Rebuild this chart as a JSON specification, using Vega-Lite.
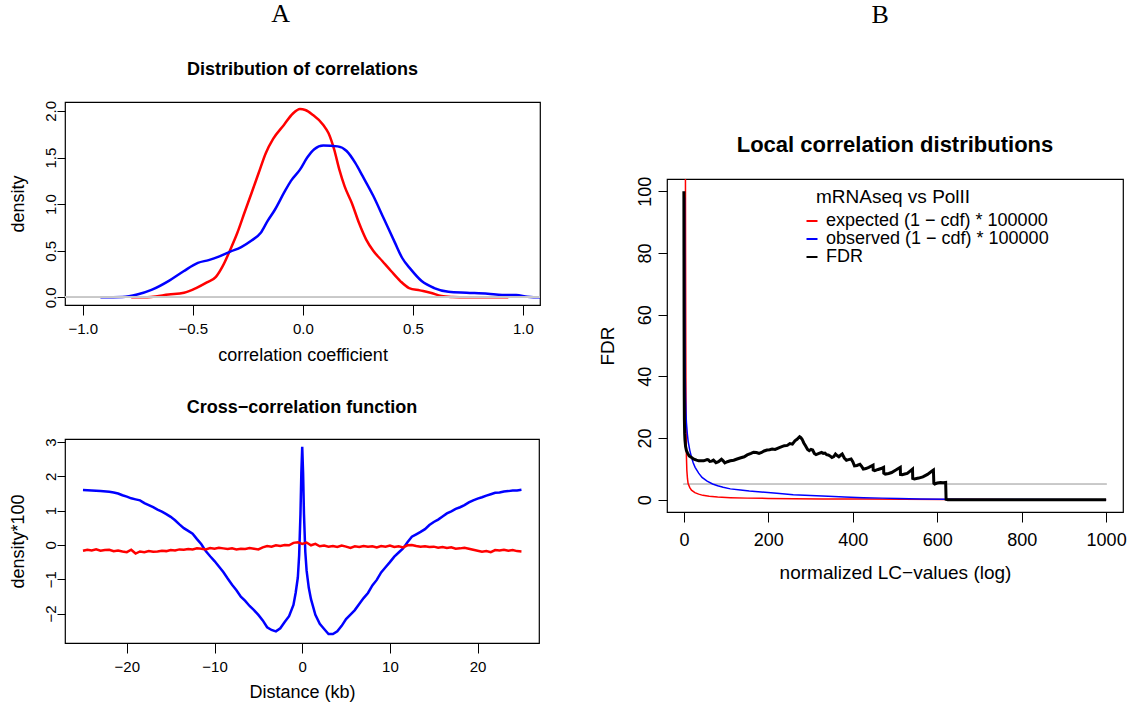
{
  "$schema": "https://vega.github.io/schema/vega-lite/v6.json",
  "background": "white",
  "padding": {"left": 8, "top": 0, "right": 4, "bottom": 4},
  "config": {
    "font": "Liberation Sans",
    "view": {"stroke": "black", "strokeWidth": 1.2},
    "axis": {"grid": false, "domain": false, "tickColor": "black", "tickWidth": 1, "labelColor": "black", "titleColor": "black", "titleFontWeight": "normal", "labelFlush": false, "labelOverlap": false, "titleAlign": "center", "titleBaseline": "alphabetic"},
    "title": {"color": "black", "fontWeight": "bold", "baseline": "alphabetic", "anchor": "middle"}
  },
  "datasets": {
    "corr": [
      {"s":"a","x":-0.78,"y":0},{"s":"a","x":-0.69,"y":0.005},{"s":"a","x":-0.61,"y":0.03},{"s":"a","x":-0.54,"y":0.05},{"s":"a","x":-0.485,"y":0.1},{"s":"a","x":-0.436,"y":0.16},{"s":"a","x":-0.395,"y":0.22},{"s":"a","x":-0.363,"y":0.34},{"s":"a","x":-0.33,"y":0.51},{"s":"a","x":-0.298,"y":0.69},{"s":"a","x":-0.265,"y":0.91},{"s":"a","x":-0.233,"y":1.12},{"s":"a","x":-0.2,"y":1.34},{"s":"a","x":-0.168,"y":1.55},{"s":"a","x":-0.135,"y":1.7},{"s":"a","x":-0.086,"y":1.85},{"s":"a","x":-0.046,"y":1.97},{"s":"a","x":-0.013,"y":2.02},{"s":"a","x":0.011,"y":2.01},{"s":"a","x":0.044,"y":1.96},{"s":"a","x":0.093,"y":1.85},{"s":"a","x":0.117,"y":1.76},{"s":"a","x":0.142,"y":1.59},{"s":"a","x":0.166,"y":1.37},{"s":"a","x":0.19,"y":1.19},{"s":"a","x":0.223,"y":1.01},{"s":"a","x":0.255,"y":0.8},{"s":"a","x":0.288,"y":0.62},{"s":"a","x":0.32,"y":0.5},{"s":"a","x":0.361,"y":0.39},{"s":"a","x":0.402,"y":0.28},{"s":"a","x":0.443,"y":0.175},{"s":"a","x":0.483,"y":0.1},{"s":"a","x":0.532,"y":0.075},{"s":"a","x":0.58,"y":0.05},{"s":"a","x":0.63,"y":0.014},{"s":"a","x":0.68,"y":0.004},{"s":"a","x":0.744,"y":0},{"s":"a","x":0.934,"y":0},
      {"s":"b","x":-0.92,"y":0},{"s":"b","x":-0.82,"y":0.004},{"s":"b","x":-0.753,"y":0.03},{"s":"b","x":-0.688,"y":0.08},{"s":"b","x":-0.607,"y":0.18},{"s":"b","x":-0.542,"y":0.28},{"s":"b","x":-0.477,"y":0.37},{"s":"b","x":-0.428,"y":0.4},{"s":"b","x":-0.379,"y":0.44},{"s":"b","x":-0.33,"y":0.49},{"s":"b","x":-0.28,"y":0.54},{"s":"b","x":-0.233,"y":0.61},{"s":"b","x":-0.192,"y":0.69},{"s":"b","x":-0.16,"y":0.82},{"s":"b","x":-0.127,"y":0.94},{"s":"b","x":-0.086,"y":1.12},{"s":"b","x":-0.054,"y":1.25},{"s":"b","x":-0.013,"y":1.37},{"s":"b","x":0.02,"y":1.5},{"s":"b","x":0.052,"y":1.59},{"s":"b","x":0.093,"y":1.63},{"s":"b","x":0.158,"y":1.62},{"s":"b","x":0.199,"y":1.57},{"s":"b","x":0.239,"y":1.44},{"s":"b","x":0.272,"y":1.3},{"s":"b","x":0.32,"y":1.09},{"s":"b","x":0.369,"y":0.84},{"s":"b","x":0.418,"y":0.59},{"s":"b","x":0.451,"y":0.425},{"s":"b","x":0.491,"y":0.3},{"s":"b","x":0.54,"y":0.175},{"s":"b","x":0.597,"y":0.1},{"s":"b","x":0.662,"y":0.06},{"s":"b","x":0.744,"y":0.05},{"s":"b","x":0.841,"y":0.04},{"s":"b","x":0.906,"y":0.025},{"s":"b","x":0.97,"y":0.025},{"s":"b","x":1.02,"y":0.007},{"s":"b","x":1.08,"y":0},{"s":"b","x":1.12,"y":0}
    ],
    "ccf": [
      {"s":"a","x":-25,"y":1.6},{"s":"a","x":-24,"y":1.59},{"s":"a","x":-23,"y":1.57},{"s":"a","x":-22,"y":1.55},{"s":"a","x":-21.5,"y":1.53},{"s":"a","x":-21,"y":1.5},{"s":"a","x":-20.5,"y":1.45},{"s":"a","x":-20,"y":1.41},{"s":"a","x":-19.5,"y":1.36},{"s":"a","x":-19,"y":1.33},{"s":"a","x":-18.5,"y":1.3},{"s":"a","x":-18,"y":1.22},{"s":"a","x":-17.5,"y":1.16},{"s":"a","x":-17,"y":1.1},{"s":"a","x":-16.5,"y":1.03},{"s":"a","x":-16,"y":0.97},{"s":"a","x":-15.5,"y":0.9},{"s":"a","x":-15,"y":0.82},{"s":"a","x":-14.5,"y":0.72},{"s":"a","x":-14,"y":0.6},{"s":"a","x":-13.5,"y":0.49},{"s":"a","x":-13,"y":0.41},{"s":"a","x":-12.5,"y":0.33},{"s":"a","x":-12,"y":0.17},{"s":"a","x":-11.5,"y":0.02},{"s":"a","x":-11,"y":-0.18},{"s":"a","x":-10.5,"y":-0.33},{"s":"a","x":-10,"y":-0.47},{"s":"a","x":-9.5,"y":-0.63},{"s":"a","x":-9,"y":-0.79},{"s":"a","x":-8.5,"y":-0.98},{"s":"a","x":-8,"y":-1.16},{"s":"a","x":-7.5,"y":-1.32},{"s":"a","x":-7,"y":-1.51},{"s":"a","x":-6.5,"y":-1.63},{"s":"a","x":-6,"y":-1.78},{"s":"a","x":-5.5,"y":-1.9},{"s":"a","x":-5,"y":-2.04},{"s":"a","x":-4.5,"y":-2.2},{"s":"a","x":-4,"y":-2.4},{"s":"a","x":-3.5,"y":-2.48},{"s":"a","x":-3,"y":-2.52},{"s":"a","x":-2.5,"y":-2.43},{"s":"a","x":-2,"y":-2.25},{"s":"a","x":-1.5,"y":-2.08},{"s":"a","x":-1,"y":-1.75},{"s":"a","x":-0.75,"y":-1.4},{"s":"a","x":-0.5,"y":-0.95},{"s":"a","x":-0.35,"y":-0.3},{"s":"a","x":-0.2,"y":0.9},{"s":"a","x":-0.1,"y":2.1},{"s":"a","x":0,"y":2.86},{"s":"a","x":0.1,"y":2.1},{"s":"a","x":0.2,"y":0.9},{"s":"a","x":0.35,"y":-0.2},{"s":"a","x":0.5,"y":-0.75},{"s":"a","x":0.75,"y":-1.25},{"s":"a","x":1,"y":-1.58},{"s":"a","x":1.5,"y":-2.04},{"s":"a","x":2,"y":-2.3},{"s":"a","x":2.5,"y":-2.45},{"s":"a","x":3,"y":-2.6},{"s":"a","x":3.5,"y":-2.6},{"s":"a","x":4,"y":-2.52},{"s":"a","x":4.5,"y":-2.36},{"s":"a","x":5,"y":-2.16},{"s":"a","x":5.5,"y":-2.03},{"s":"a","x":6,"y":-1.9},{"s":"a","x":6.5,"y":-1.72},{"s":"a","x":7,"y":-1.55},{"s":"a","x":7.5,"y":-1.4},{"s":"a","x":8,"y":-1.18},{"s":"a","x":8.5,"y":-1.02},{"s":"a","x":9,"y":-0.8},{"s":"a","x":9.5,"y":-0.65},{"s":"a","x":10,"y":-0.5},{"s":"a","x":10.5,"y":-0.34},{"s":"a","x":11,"y":-0.22},{"s":"a","x":11.5,"y":-0.1},{"s":"a","x":12,"y":0.08},{"s":"a","x":12.5,"y":0.24},{"s":"a","x":13,"y":0.31},{"s":"a","x":13.5,"y":0.38},{"s":"a","x":14,"y":0.46},{"s":"a","x":14.5,"y":0.58},{"s":"a","x":15,"y":0.67},{"s":"a","x":15.5,"y":0.74},{"s":"a","x":16,"y":0.83},{"s":"a","x":16.5,"y":0.92},{"s":"a","x":17,"y":0.98},{"s":"a","x":17.5,"y":1.05},{"s":"a","x":18,"y":1.1},{"s":"a","x":18.5,"y":1.16},{"s":"a","x":19,"y":1.24},{"s":"a","x":19.5,"y":1.3},{"s":"a","x":20,"y":1.35},{"s":"a","x":20.5,"y":1.39},{"s":"a","x":21,"y":1.44},{"s":"a","x":21.5,"y":1.48},{"s":"a","x":22,"y":1.52},{"s":"a","x":22.5,"y":1.53},{"s":"a","x":23,"y":1.56},{"s":"a","x":23.5,"y":1.57},{"s":"a","x":24,"y":1.59},{"s":"a","x":24.5,"y":1.59},{"s":"a","x":25,"y":1.61},
      {"s":"b","x":-25,"y":-0.17},{"s":"b","x":-24.5,"y":-0.14},{"s":"b","x":-24,"y":-0.16},{"s":"b","x":-23.5,"y":-0.13},{"s":"b","x":-23,"y":-0.17},{"s":"b","x":-22.5,"y":-0.15},{"s":"b","x":-22,"y":-0.14},{"s":"b","x":-21.5,"y":-0.18},{"s":"b","x":-21,"y":-0.16},{"s":"b","x":-20.5,"y":-0.19},{"s":"b","x":-20,"y":-0.21},{"s":"b","x":-19.5,"y":-0.14},{"s":"b","x":-19,"y":-0.25},{"s":"b","x":-18.5,"y":-0.19},{"s":"b","x":-18,"y":-0.21},{"s":"b","x":-17.5,"y":-0.18},{"s":"b","x":-17,"y":-0.2},{"s":"b","x":-16.5,"y":-0.19},{"s":"b","x":-16,"y":-0.17},{"s":"b","x":-15.5,"y":-0.18},{"s":"b","x":-15,"y":-0.15},{"s":"b","x":-14.5,"y":-0.16},{"s":"b","x":-14,"y":-0.13},{"s":"b","x":-13.5,"y":-0.14},{"s":"b","x":-13,"y":-0.12},{"s":"b","x":-12.5,"y":-0.13},{"s":"b","x":-12,"y":-0.1},{"s":"b","x":-11.5,"y":-0.11},{"s":"b","x":-11,"y":-0.13},{"s":"b","x":-10.5,"y":-0.09},{"s":"b","x":-10,"y":-0.11},{"s":"b","x":-9.5,"y":-0.08},{"s":"b","x":-9,"y":-0.1},{"s":"b","x":-8.5,"y":-0.12},{"s":"b","x":-8,"y":-0.1},{"s":"b","x":-7.5,"y":-0.13},{"s":"b","x":-7,"y":-0.11},{"s":"b","x":-6.5,"y":-0.12},{"s":"b","x":-6,"y":-0.09},{"s":"b","x":-5.5,"y":-0.11},{"s":"b","x":-5,"y":-0.13},{"s":"b","x":-4.5,"y":-0.07},{"s":"b","x":-4,"y":-0.03},{"s":"b","x":-3.5,"y":-0.05},{"s":"b","x":-3,"y":-0.01},{"s":"b","x":-2.5,"y":-0.03},{"s":"b","x":-2,"y":0},{"s":"b","x":-1.5,"y":-0.01},{"s":"b","x":-1,"y":0.06},{"s":"b","x":-0.5,"y":0.08},{"s":"b","x":0,"y":0.03},{"s":"b","x":0.5,"y":0.07},{"s":"b","x":1,"y":-0.01},{"s":"b","x":1.5,"y":0.03},{"s":"b","x":2,"y":-0.04},{"s":"b","x":2.5,"y":-0.02},{"s":"b","x":3,"y":-0.05},{"s":"b","x":3.5,"y":-0.03},{"s":"b","x":4,"y":-0.06},{"s":"b","x":4.5,"y":-0.02},{"s":"b","x":5,"y":-0.05},{"s":"b","x":5.5,"y":-0.09},{"s":"b","x":6,"y":-0.04},{"s":"b","x":6.5,"y":-0.06},{"s":"b","x":7,"y":-0.03},{"s":"b","x":7.5,"y":-0.05},{"s":"b","x":8,"y":-0.04},{"s":"b","x":8.5,"y":-0.07},{"s":"b","x":9,"y":-0.03},{"s":"b","x":9.5,"y":-0.05},{"s":"b","x":10,"y":-0.02},{"s":"b","x":10.5,"y":-0.06},{"s":"b","x":11,"y":-0.04},{"s":"b","x":11.5,"y":-0.07},{"s":"b","x":12,"y":-0.01},{"s":"b","x":12.5,"y":0},{"s":"b","x":13,"y":-0.03},{"s":"b","x":13.5,"y":-0.05},{"s":"b","x":14,"y":-0.04},{"s":"b","x":14.5,"y":-0.06},{"s":"b","x":15,"y":-0.05},{"s":"b","x":15.5,"y":-0.08},{"s":"b","x":16,"y":-0.06},{"s":"b","x":16.5,"y":-0.09},{"s":"b","x":17,"y":-0.07},{"s":"b","x":17.5,"y":-0.11},{"s":"b","x":18,"y":-0.1},{"s":"b","x":18.5,"y":-0.08},{"s":"b","x":19,"y":-0.11},{"s":"b","x":19.5,"y":-0.14},{"s":"b","x":20,"y":-0.17},{"s":"b","x":20.5,"y":-0.2},{"s":"b","x":21,"y":-0.18},{"s":"b","x":21.5,"y":-0.21},{"s":"b","x":22,"y":-0.15},{"s":"b","x":22.5,"y":-0.16},{"s":"b","x":23,"y":-0.14},{"s":"b","x":23.5,"y":-0.17},{"s":"b","x":24,"y":-0.15},{"s":"b","x":24.5,"y":-0.18},{"s":"b","x":25,"y":-0.19}
    ],
    "fdr": [
      {"s":"a","x":3.5,"y":120},{"s":"a","x":4,"y":80},{"s":"a","x":4.5,"y":50},{"s":"a","x":5,"y":30},{"s":"a","x":5.5,"y":20},{"s":"a","x":6,"y":14},{"s":"a","x":7,"y":9.5},{"s":"a","x":8.5,"y":6.8},{"s":"a","x":10,"y":5.2},{"s":"a","x":14,"y":3.9},{"s":"a","x":18,"y":3.1},{"s":"a","x":26,"y":2.3},{"s":"a","x":35,"y":1.8},{"s":"a","x":45,"y":1.4},{"s":"a","x":60,"y":1.1},{"s":"a","x":80,"y":0.85},{"s":"a","x":110,"y":0.65},{"s":"a","x":150,"y":0.5},{"s":"a","x":200,"y":0.4},{"s":"a","x":260,"y":0.3},{"s":"a","x":330,"y":0.25},{"s":"a","x":425,"y":0.2},{"s":"a","x":520,"y":0.12},{"s":"a","x":625,"y":0.05},{"s":"a","x":700,"y":0.02},{"s":"a","x":800,"y":0.01},{"s":"a","x":1000,"y":0},
      {"s":"b","x":1.5,"y":98},{"s":"b","x":2,"y":70},{"s":"b","x":2.5,"y":50},{"s":"b","x":3.2,"y":40},{"s":"b","x":4,"y":33},{"s":"b","x":5,"y":28},{"s":"b","x":6,"y":25},{"s":"b","x":8,"y":21.5},{"s":"b","x":10,"y":19},{"s":"b","x":14,"y":16},{"s":"b","x":18,"y":13.8},{"s":"b","x":22,"y":12},{"s":"b","x":26.6,"y":10.5},{"s":"b","x":35,"y":8.6},{"s":"b","x":43,"y":7.2},{"s":"b","x":55,"y":6},{"s":"b","x":68,"y":5.1},{"s":"b","x":80,"y":4.5},{"s":"b","x":93,"y":4},{"s":"b","x":110,"y":3.5},{"s":"b","x":134,"y":3.1},{"s":"b","x":155,"y":2.8},{"s":"b","x":176,"y":2.6},{"s":"b","x":220,"y":2.1},{"s":"b","x":259,"y":1.6},{"s":"b","x":300,"y":1.35},{"s":"b","x":342,"y":1.1},{"s":"b","x":380,"y":0.9},{"s":"b","x":425,"y":0.65},{"s":"b","x":470,"y":0.5},{"s":"b","x":508,"y":0.4},{"s":"b","x":560,"y":0.25},{"s":"b","x":625,"y":0.1},{"s":"b","x":700,"y":0.05},{"s":"b","x":800,"y":0.02},{"s":"b","x":1000,"y":0},
      {"s":"c","x":0,"y":100},{"s":"c","x":0.4,"y":60},{"s":"c","x":0.8,"y":35},{"s":"c","x":1.2,"y":26},{"s":"c","x":1.8,"y":21.5},{"s":"c","x":2.5,"y":19.5},{"s":"c","x":4,"y":17.2},{"s":"c","x":6,"y":15.9},{"s":"c","x":9,"y":15},{"s":"c","x":12.5,"y":14.2},{"s":"c","x":18,"y":13.7},{"s":"c","x":22.4,"y":13.2},{"s":"c","x":30,"y":12.8},{"s":"c","x":35,"y":12.6},{"s":"c","x":47,"y":12.6},{"s":"c","x":55,"y":13},{"s":"c","x":58,"y":12.9},{"s":"c","x":61.5,"y":12.4},{"s":"c","x":66,"y":12.5},{"s":"c","x":70,"y":12.8},{"s":"c","x":76,"y":12},{"s":"c","x":82,"y":12.3},{"s":"c","x":89,"y":13.1},{"s":"c","x":93,"y":12.6},{"s":"c","x":97,"y":11.9},{"s":"c","x":103,"y":12.3},{"s":"c","x":110,"y":12.6},{"s":"c","x":118,"y":12.8},{"s":"c","x":126,"y":13.2},{"s":"c","x":135,"y":13.6},{"s":"c","x":143,"y":13.9},{"s":"c","x":150,"y":14.5},{"s":"c","x":159,"y":15},{"s":"c","x":165,"y":15.4},{"s":"c","x":172,"y":15.3},{"s":"c","x":178,"y":15},{"s":"c","x":184,"y":15.3},{"s":"c","x":190,"y":15.8},{"s":"c","x":197,"y":16.1},{"s":"c","x":203,"y":16.2},{"s":"c","x":209,"y":16.4},{"s":"c","x":216,"y":16.3},{"s":"c","x":226,"y":16.9},{"s":"c","x":232,"y":17.2},{"s":"c","x":238,"y":17.5},{"s":"c","x":245,"y":17.6},{"s":"c","x":251,"y":18.2},{"s":"c","x":257,"y":18},{"s":"c","x":263,"y":19.1},{"s":"c","x":268,"y":19.6},{"s":"c","x":274,"y":20.4},{"s":"c","x":277,"y":20.1},{"s":"c","x":280,"y":19.6},{"s":"c","x":284,"y":18.4},{"s":"c","x":288,"y":17.5},{"s":"c","x":293,"y":16.3},{"s":"c","x":297,"y":15.9},{"s":"c","x":301,"y":16.3},{"s":"c","x":305,"y":16.1},{"s":"c","x":309,"y":15},{"s":"c","x":313,"y":14.6},{"s":"c","x":320,"y":15},{"s":"c","x":326,"y":15.3},{"s":"c","x":330,"y":15},{"s":"c","x":334,"y":15.1},{"s":"c","x":338,"y":14.6},{"s":"c","x":342,"y":14.5},{"s":"c","x":346,"y":14.2},{"s":"c","x":350.5,"y":13.7},{"s":"c","x":355,"y":14},{"s":"c","x":359,"y":14.8},{"s":"c","x":363,"y":14.3},{"s":"c","x":367,"y":13.9},{"s":"c","x":371,"y":14.4},{"s":"c","x":375,"y":14.8},{"s":"c","x":380,"y":13.5},{"s":"c","x":385,"y":12.8},{"s":"c","x":390,"y":13},{"s":"c","x":396,"y":13.2},{"s":"c","x":400,"y":12.3},{"s":"c","x":404,"y":11},{"s":"c","x":410,"y":11.1},{"s":"c","x":417,"y":11.5},{"s":"c","x":421,"y":10.8},{"s":"c","x":425,"y":9.9},{"s":"c","x":431,"y":10.1},{"s":"c","x":438,"y":10.5},{"s":"c","x":448,"y":11.2},{"s":"c","x":448.4,"y":9.6},{"s":"c","x":452,"y":9.4},{"s":"c","x":460,"y":9.8},{"s":"c","x":467,"y":10.1},{"s":"c","x":473,"y":10.5},{"s":"c","x":473.4,"y":8.6},{"s":"c","x":477,"y":8.3},{"s":"c","x":485,"y":8.5},{"s":"c","x":492,"y":8.8},{"s":"c","x":502,"y":9.6},{"s":"c","x":512.5,"y":10.5},{"s":"c","x":513,"y":8.2},{"s":"c","x":517,"y":8.1},{"s":"c","x":523,"y":8.3},{"s":"c","x":529,"y":8.5},{"s":"c","x":535,"y":9.2},{"s":"c","x":541.5,"y":9.9},{"s":"c","x":542,"y":6.9},{"s":"c","x":546,"y":6.7},{"s":"c","x":556,"y":7},{"s":"c","x":566,"y":7.4},{"s":"c","x":577,"y":8.2},{"s":"c","x":587,"y":9.2},{"s":"c","x":591,"y":9.6},{"s":"c","x":592,"y":5.3},{"s":"c","x":594,"y":5.1},{"s":"c","x":600,"y":5.4},{"s":"c","x":608,"y":5.6},{"s":"c","x":614,"y":5.5},{"s":"c","x":620,"y":5.6},{"s":"c","x":621,"y":0.1},{"s":"c","x":625,"y":0},{"s":"c","x":1000,"y":0}
    ]
  },
  "resolve": {"scale": {"color": "independent"}, "legend": {"color": "independent"}},
  "spacing": 55,
  "hconcat": [
    {
      "title": {"text": "A", "font": "Liberation Serif", "fontSize": 26, "fontWeight": "normal", "offset": 33, "dx": 6},
      "resolve": {"scale": {"color": "independent"}, "legend": {"color": "independent"}},
      "spacing": 33,
      "vconcat": [
        {
          "width": 475,
          "height": 203,
          "title": {"text": "Distribution of correlations", "fontSize": 18, "offset": 22},
          "data": {"name": "corr"},
          "layer": [
            {
              "mark": {"type": "line", "strokeWidth": 2.5, "interpolate": "monotone", "clip": true},
              "encoding": {
                "x": {"field": "x", "type": "quantitative", "scale": {"domain": [-1.081, 1.078], "nice": false, "zero": false},
                      "axis": {"values": [-1, -0.5, 0, 0.5, 1], "format": ".1f", "title": "correlation coefficient", "labelFontSize": 15, "titleFontSize": 18, "tickSize": 10, "labelPadding": 6, "titleX": 237.5, "titleY": 55}},
                "y": {"field": "y", "type": "quantitative", "scale": {"domain": [-0.082, 2.096], "nice": false, "zero": false},
                      "axis": {"values": [0, 0.5, 1, 1.5, 2], "format": ".1f", "title": "density", "labelAngle": -90, "labelAlign": "center", "labelBaseline": "alphabetic", "labelFontSize": 15, "titleFontSize": 18, "tickSize": 8, "labelPadding": 2, "titleX": -42, "titleY": 101.5}},
                "color": {"field": "s", "type": "nominal", "scale": {"domain": ["a", "b"], "range": ["#ff0000", "#0000ff"]}, "legend": null}
              }
            },
            {"mark": {"type": "rule", "color": "#c8c8c8", "strokeWidth": 1}, "encoding": {"y": {"datum": 0}}}
          ]
        },
        {
          "width": 474,
          "height": 204,
          "title": {"text": "Cross−correlation function", "fontSize": 18, "offset": 21},
          "data": {"name": "ccf"},
          "mark": {"type": "line", "strokeWidth": 2.5, "clip": true},
          "encoding": {
            "x": {"field": "x", "type": "quantitative", "scale": {"domain": [-27.05, 27.0], "nice": false, "zero": false},
                  "axis": {"values": [-20, -10, 0, 10, 20], "title": "Distance (kb)", "labelFontSize": 15, "titleFontSize": 18, "tickSize": 10, "labelPadding": 6, "titleX": 237, "titleY": 54}},
            "y": {"field": "y", "type": "quantitative", "scale": {"domain": [-2.86, 3.09], "nice": false, "zero": false},
                  "axis": {"values": [-2, -1, 0, 1, 2, 3], "title": "density*100", "labelAngle": -90, "labelAlign": "center", "labelBaseline": "alphabetic", "labelFontSize": 15, "titleFontSize": 18, "tickSize": 8, "labelPadding": 2, "titleX": -42, "titleY": 102}},
            "color": {"field": "s", "type": "nominal", "scale": {"domain": ["a", "b"], "range": ["#0000ff", "#ff0000"]}, "legend": null}
          }
        }
      ]
    },
    {
      "title": {"text": "B", "font": "Liberation Serif", "fontSize": 26, "fontWeight": "normal", "offset": 71, "dx": 18},
      "resolve": {"scale": {"color": "independent"}, "legend": {"color": "independent"}},
      "spacing": 27,
      "vconcat": [
        {
          "width": 456,
          "height": 1,
          "view": {"stroke": "transparent"},
          "data": {"values": [{}]},
          "mark": {"type": "point", "opacity": 0},
          "encoding": {}
        },
        {
          "width": 456,
          "height": 333,
          "title": {"text": "Local correlation distributions", "fontSize": 22, "offset": 19},
          "data": {"name": "fdr"},
          "layer": [
            {"mark": {"type": "rule", "color": "#c8c8c8", "strokeWidth": 1},
             "encoding": {"x": {"datum": 0, "type": "quantitative"}, "x2": {"datum": 1000}, "y": {"datum": 5, "type": "quantitative"}}},
            {
              "transform": [{"filter": "datum.s != 'c'"}],
              "mark": {"type": "line", "clip": true, "strokeWidth": 1.5},
              "encoding": {
                "x": {"field": "x", "type": "quantitative", "scale": {"domain": [-40, 1040], "nice": false, "zero": false},
                      "axis": {"values": [0, 200, 400, 600, 800, 1000], "format": "d", "title": "normalized LC−values (log)", "labelFontSize": 18, "titleFontSize": 19, "tickSize": 10, "labelPadding": 9, "titleX": 228, "titleY": 66}},
                "y": {"field": "y", "type": "quantitative", "scale": {"domain": [-4, 104], "nice": false, "zero": false},
                      "axis": {"values": [0, 20, 40, 60, 80, 100], "format": "d", "title": "FDR", "labelAngle": -90, "labelAlign": "center", "labelBaseline": "alphabetic", "labelFontSize": 18, "titleFontSize": 19, "tickSize": 9, "labelPadding": 8, "titleX": -54, "titleY": 166.5}},
                "color": {"field": "s", "type": "nominal", "scale": {"domain": ["a", "b", "c"], "range": ["#ff0000", "#0000ff", "#000000"]},
                          "legend": {"title": "mRNAseq vs PolII", "orient": "none", "legendX": 149, "legendY": 9, "padding": 0, "titleFontSize": 19, "titleFontWeight": "normal", "titleColor": "black", "labelFontSize": 18, "labelColor": "black", "labelLimit": 0, "symbolType": "stroke", "symbolSize": 121, "symbolStrokeWidth": 2, "symbolOffset": -13, "labelOffset": 5, "rowPadding": 0, "titlePadding": 5,
                                     "labelExpr": "datum.label == 'a' ? 'expected (1 − cdf) * 100000' : datum.label == 'b' ? 'observed (1 − cdf) * 100000' : 'FDR'"}}
              }
            },
            {
              "transform": [{"filter": "datum.s == 'c'"}],
              "mark": {"type": "line", "clip": true, "strokeWidth": 3},
              "encoding": {
                "x": {"field": "x", "type": "quantitative"},
                "y": {"field": "y", "type": "quantitative"},
                "color": {"field": "s", "type": "nominal"}
              }
            }
          ]
        }
      ]
    }
  ]
}
